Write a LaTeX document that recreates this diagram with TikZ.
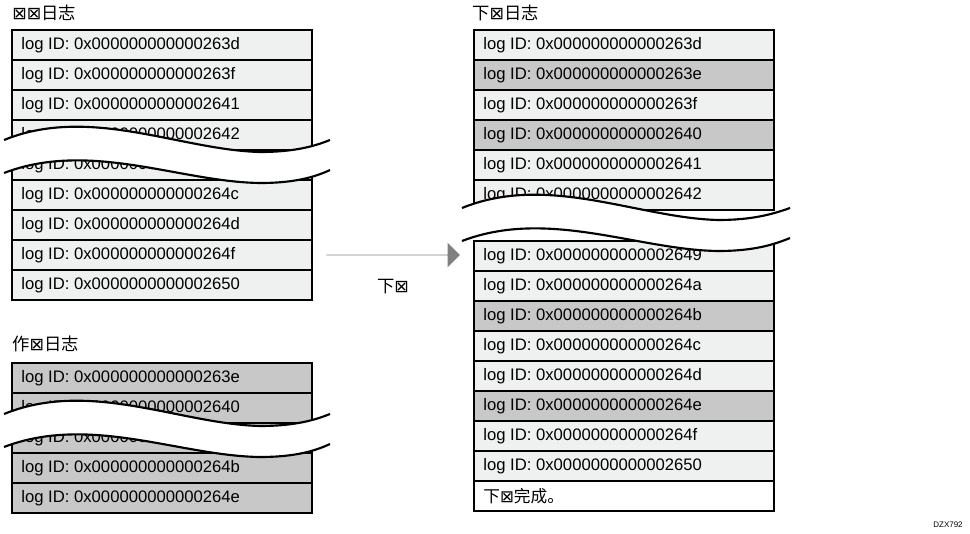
\documentclass[tikz,border=0pt]{standalone}
\usepackage{fontspec}
\setmainfont{Liberation Sans}
\newfontfamily\cjk{Noto Sans CJK SC}
\newfontfamily\dvs{DejaVu Sans}
\usetikzlibrary{positioning}
\usetikzlibrary{shapes.arrows}
\newcommand{\bx}{{\dvs ⊠}}
\definecolor{rowlight}{HTML}{EFF0F0}
\definecolor{rowdark}{HTML}{C8C8C8}
\definecolor{arrowgray}{HTML}{808080}

\begin{document}
\begin{tikzpicture}[x=0.75pt,y=-0.75pt]
    \tikzset{logrow/.style = {rectangle, draw=black, line width=1.2pt,
                             minimum width=225pt, minimum height=22.5pt,
                             inner sep=0pt, font=\fontsize{12.5}{14}\selectfont}}
    \tikzset{light/.style = {logrow, fill=rowlight}}
    \tikzset{dark/.style = {logrow, fill=rowdark}}
    \tikzset{blank/.style = {logrow, fill=white}}
    \tikzset{title/.style = {anchor=west, inner sep=0pt, font=\cjk\fontsize{13}{15}\selectfont}}
    \tikzset{wave/.style = {line width=1.6pt}}
    \newcommand{\logtext}[1]{\makebox[211pt][l]{log ID: 0x#1}}

    \useasboundingbox (0,0) rectangle (970,534);

    % titles
    \node (sys) [title] at (12,13) {\bx{}\bx{}日志};
    \node (job) [title] at (12,344) {作\bx{}日志};
    \node (dl) [title] at (472,13) {下\bx{}日志};

    % system log
    \foreach \y/\id/\s [count=\i] in {45/000000000000263d/light, 75/000000000000263f/light,
        105/0000000000002641/light, 135/0000000000002642/light, 165/000000000000264a/light,
        195/000000000000264c/light, 225/000000000000264d/light, 255/000000000000264f/light,
        285/0000000000002650/light}
        \node (s\i) [\s] at (162,\y) {\logtext{\id}};

    % job log
    \foreach \y/\id [count=\i] in {378/000000000000263e, 408/0000000000002640,
        438/000000000000264a, 468/000000000000264b, 498/000000000000264e}
        \node (j\i) [dark] at (162,\y) {\logtext{\id}};

    % download log
    \foreach \y/\id/\s [count=\i] in {45/000000000000263d/light, 75/000000000000263e/dark,
        105/000000000000263f/light, 135/0000000000002640/dark, 165/0000000000002641/light,
        195/0000000000002642/light, 256/0000000000002649/light, 286/000000000000264a/light,
        316/000000000000264b/dark, 346/000000000000264c/light, 376/000000000000264d/light,
        406/000000000000264e/dark, 436/000000000000264f/light, 466/0000000000002650/light}
        \node (d\i) [\s] at (624,\y) {\logtext{\id}};
    \node (done) [blank] at (624,496) {\makebox[211pt][l]{\cjk 下\bx{}完成。}};

    % breaks
    \foreach \dx/\dy/\w in {0/0/330, 0/274/330, 458/68/332}
    {
        \begin{scope}[shift={(\dx,\dy)}]
            \fill[white] (4,140) .. controls (90,105) and (180,150) .. (260,152)
                .. controls (295,152) and (315,146) .. (\w,140)
                -- (\w,170) .. controls (315,177) and (295,183) .. (260,183)
                .. controls (180,182) and (90,140) .. (4,173) -- cycle;
            \draw[wave] (4,140) .. controls (90,105) and (180,150) .. (260,152)
                .. controls (295,152) and (315,146) .. (\w,140);
            \draw[wave] (4,173) .. controls (90,140) and (180,182) .. (260,183)
                .. controls (295,183) and (315,177) .. (\w,170);
        \end{scope}
    }

    % transfer arrow
    \node (go) [single arrow, fill=arrowgray, minimum height=100pt,
        single arrow head extend=9pt, minimum width=12pt, inner sep=0pt,
        single arrow head indent=0pt] at (393,255) {};
    \node (golbl) [below=14pt of go, font=\cjk\fontsize{13}{15}\selectfont] {下\bx{}};

    \node (tag) [font=\fontsize{6}{7}\selectfont] at (948,525) {DZX792};
\end{tikzpicture}
\end{document}
